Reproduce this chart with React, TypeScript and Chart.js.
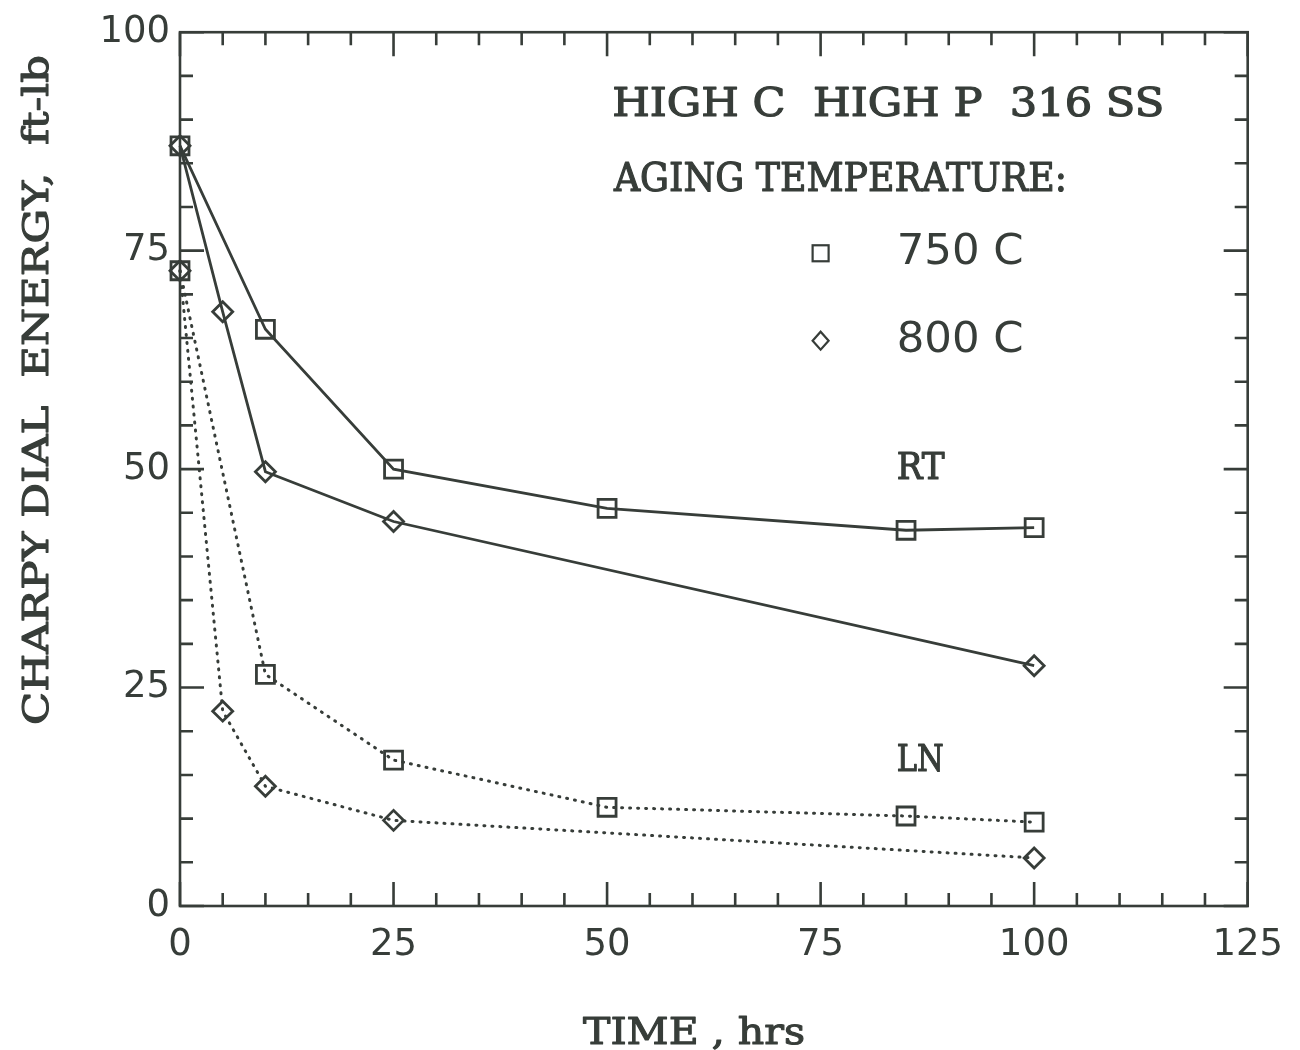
import React, { useEffect, useRef } from 'react';
import { Chart, registerables } from 'chart.js';

Chart.register(...registerables);

// Charpy dial energy (ft-lb) versus aging time (hrs)
const rt750Hours = [0, 10, 25, 50, 85, 100];
const rt750Energy = [87, 66, 50, 45.5, 43, 43.3];
const rt800Hours = [0, 5, 10, 25, 100];
const rt800Energy = [87, 68, 49.7, 44, 27.5];
const ln750Hours = [0, 10, 25, 50, 85, 100];
const ln750Energy = [72.7, 26.5, 16.7, 11.3, 10.3, 9.6];
const ln800Hours = [0, 5, 10, 25, 100];
const ln800Energy = [72.7, 22.3, 13.7, 9.8, 5.5];

const xTickLabels = [0, 25, 50, 75, 100, 125];
const yTickLabels = [0, 25, 50, 75, 100];

const INK = '#373d39';
const SERIF = '"DejaVu Serif", "Liberation Serif", serif';
const SANS = '"DejaVu Sans", sans-serif';

const toPoints = (xs: number[], ys: number[]) => xs.map((x, i) => ({ x, y: ys[i] }));

// Draw text left-aligned at (x, y), fitted horizontally to a given width,
// with an optional outline to give it a heavier typewriter weight
function fitText(ctx: CanvasRenderingContext2D, text: string, x: number, y: number, width: number, weight = 0) {
  const w = ctx.measureText(text).width;
  ctx.save();
  ctx.translate(x, y);
  ctx.scale(width / w, 1);
  ctx.textAlign = 'left';
  ctx.fillText(text, 0, 0);
  if (weight > 0) {
    ctx.lineWidth = weight;
    ctx.lineJoin = 'round';
    ctx.strokeText(text, 0, 0);
  }
  ctx.restore();
}

// Frame with inward ticks on all four sides
const framePlugin = {
  id: 'frameTicks',
  afterDatasetsDraw(chart: any) {
    const { ctx, chartArea: a, scales } = chart;
    const xs = scales.x;
    const ys = scales.y;
    ctx.save();
    ctx.strokeStyle = INK;
    ctx.lineWidth = 2.6;
    ctx.strokeRect(a.left, a.top, a.right - a.left, a.bottom - a.top);
    ctx.beginPath();
    for (const t of xs.ticks) {
      const px = xs.getPixelForValue(t.value);
      const len = t.value % 25 === 0 ? 24 : 13;
      ctx.moveTo(px, a.bottom);
      ctx.lineTo(px, a.bottom - len);
      ctx.moveTo(px, a.top);
      ctx.lineTo(px, a.top + len);
    }
    for (const t of ys.ticks) {
      const py = ys.getPixelForValue(t.value);
      const len = t.value % 25 === 0 ? 24 : 13;
      ctx.moveTo(a.left, py);
      ctx.lineTo(a.left + len, py);
      ctx.moveTo(a.right, py);
      ctx.lineTo(a.right - len, py);
    }
    ctx.stroke();
    ctx.restore();
  },
};

// Titles, legend and curve labels
const textPlugin = {
  id: 'annotations',
  afterDraw(chart: any) {
    const { ctx, scales } = chart;
    const xs = scales.x;
    const ys = scales.y;
    const px = (v: number) => xs.getPixelForValue(v);
    const py = (v: number) => ys.getPixelForValue(v);
    ctx.save();
    ctx.fillStyle = INK;
    ctx.strokeStyle = INK;
    ctx.textBaseline = 'alphabetic';

    ctx.font = `40px ${SERIF}`;
    fitText(ctx, 'HIGH C  HIGH P  316 SS', px(50.6), py(90.4), 552, 1.2);
    fitText(ctx, 'AGING TEMPERATURE:', px(50.8), py(81.8), 453, 1.2);

    // legend glyphs
    ctx.lineWidth = 2.2;
    const sx = px(75);
    const sy = py(74.7);
    ctx.strokeRect(sx - 8, sy - 8, 16, 16);
    const dy = py(64.7);
    ctx.beginPath();
    ctx.moveTo(sx - 8, dy);
    ctx.lineTo(sx, dy - 9);
    ctx.lineTo(sx + 8, dy);
    ctx.lineTo(sx, dy + 9);
    ctx.closePath();
    ctx.stroke();

    ctx.font = `42px ${SANS}`;
    ctx.textBaseline = 'middle';
    fitText(ctx, '750 C', px(83.9), sy, 127);
    fitText(ctx, '800 C', px(83.9), dy, 127);

    ctx.textBaseline = 'alphabetic';
    ctx.font = `38px ${SERIF}`;
    fitText(ctx, 'RT', px(83.9), py(48.9), 48, 1.2);
    fitText(ctx, 'LN', px(83.9), py(15.5), 47, 1.2);

    // axis titles
    ctx.font = `38px ${SERIF}`;
    fitText(ctx, 'TIME , hrs', 583, 1044, 222, 1.1);

    ctx.save();
    ctx.translate(48, 725);
    ctx.rotate(-Math.PI / 2);
    ctx.font = `35px ${SERIF}`;
    fitText(ctx, 'CHARPY DIAL  ENERGY,  ft-lb', 0, 0, 670, 1.1);
    ctx.restore();

    ctx.restore();
  },
};

export default function App() {
  const canvasRef = useRef<HTMLCanvasElement | null>(null);

  useEffect(() => {
    const canvas = canvasRef.current;
    if (!canvas) return;

    const solid = { borderColor: INK, borderWidth: 2.8, pointBorderColor: INK, pointBackgroundColor: 'rgba(0,0,0,0)', pointBorderWidth: 2.8, fill: false, tension: 0, clip: false as any };
    const dotted = { ...solid, borderWidth: 3, borderDash: [1, 7], borderCapStyle: 'round' as const };

    const chart = new Chart(canvas, {
      type: 'line',
      data: {
        datasets: [
          { label: 'RT 750 C', data: toPoints(rt750Hours, rt750Energy), ...solid, pointStyle: 'rect', pointRadius: 12.7 },
          { label: 'RT 800 C', data: toPoints(rt800Hours, rt800Energy), ...solid, pointStyle: 'rectRot', pointRadius: 10 },
          { label: 'LN 750 C', data: toPoints(ln750Hours, ln750Energy), ...dotted, pointStyle: 'rect', pointRadius: 12.7 },
          { label: 'LN 800 C', data: toPoints(ln800Hours, ln800Energy), ...dotted, pointStyle: 'rectRot', pointRadius: 10 },
        ],
      },
      options: {
        animation: false,
        responsive: false,
        devicePixelRatio: 1,
        layout: { padding: { top: 28, right: 50, left: 0, bottom: 0 } },
        plugins: { legend: { display: false }, tooltip: { enabled: false } },
        elements: { point: { hoverRadius: 10 } },
        scales: {
          x: {
            type: 'linear',
            min: 0,
            max: 125,
            afterFit: (s: any) => { s.height = 144; },
            grid: { display: false, drawTicks: false },
            border: { display: false },
            ticks: {
              stepSize: 5,
              autoSkip: false,
              maxRotation: 0,
              padding: 17,
              color: INK,
              font: { family: SANS, size: 37 },
              callback: (v: any) => (xTickLabels.includes(Number(v)) ? String(v) : ''),
            },
          },
          y: {
            type: 'linear',
            min: 0,
            max: 100,
            afterFit: (s: any) => { s.width = 180; },
            grid: { display: false, drawTicks: false },
            border: { display: false },
            ticks: {
              stepSize: 5,
              autoSkip: false,
              padding: 10,
              color: INK,
              font: { family: SANS, size: 37 },
              callback: (v: any) => (yTickLabels.includes(Number(v)) ? String(v) : ''),
            },
          },
        },
      },
      plugins: [framePlugin, textPlugin],
    });

    return () => chart.destroy();
  }, []);

  return (
    <div style={{ position: 'fixed', left: 0, top: 0, width: 1300, height: 1050, background: '#ffffff' }}>
      <canvas ref={canvasRef} width={1300} height={1050} style={{ display: 'block' }} />
    </div>
  );
}
